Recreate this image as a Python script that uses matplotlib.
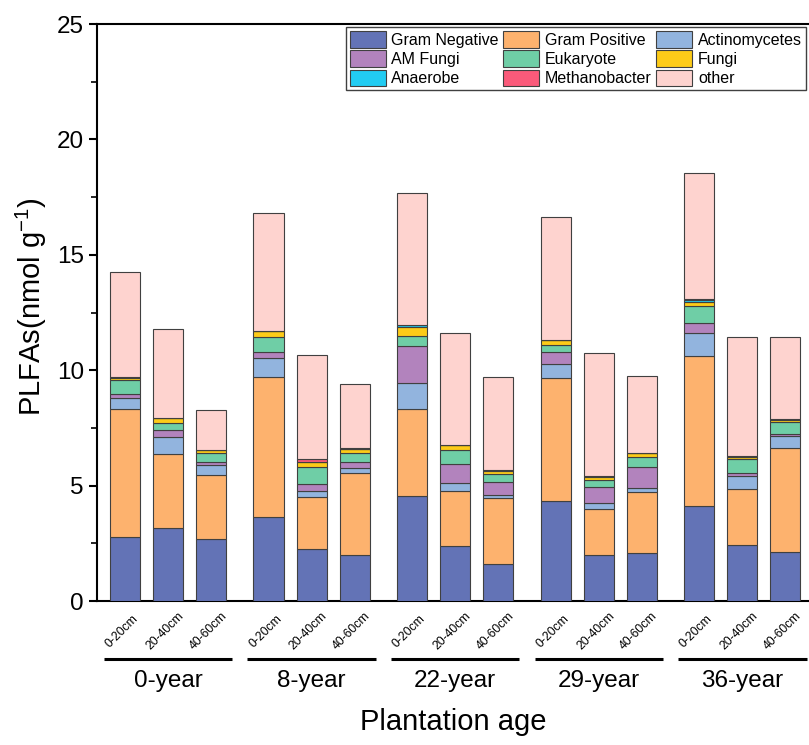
import numpy as np
import matplotlib
matplotlib.use("Agg")
import matplotlib.pyplot as plt
from matplotlib.patches import Patch

plt.rcParams['font.family'] = ['Liberation Sans', 'DejaVu Sans']
plt.rcParams['mathtext.default'] = 'regular'

ages = ['0-year', '8-year', '22-year', '29-year', '36-year']
depths = ['0-20cm', '20-40cm', '40-60cm']

# one value per bar: ages x depths, flattened
gram_neg = [2.76, 3.16, 2.70, 3.65, 2.25, 1.99, 4.56, 2.37, 1.60, 4.33, 1.98, 2.07, 4.12, 2.41, 2.11]
gram_pos = [5.57, 3.19, 2.76, 6.07, 2.27, 3.54, 3.74, 2.38, 2.85, 5.33, 1.99, 2.64, 6.51, 2.43, 4.53]
actino = [0.47, 0.77, 0.42, 0.79, 0.23, 0.22, 1.13, 0.38, 0.14, 0.59, 0.26, 0.17, 0.97, 0.56, 0.49]
am_fungi = [0.17, 0.29, 0.13, 0.27, 0.32, 0.26, 1.60, 0.82, 0.57, 0.53, 0.71, 0.94, 0.43, 0.15, 0.09]
eukaryote = [0.61, 0.32, 0.40, 0.65, 0.74, 0.39, 0.47, 0.58, 0.34, 0.30, 0.29, 0.41, 0.75, 0.59, 0.52]
fungi = [0.10, 0.20, 0.12, 0.27, 0.20, 0.19, 0.39, 0.23, 0.15, 0.23, 0.16, 0.17, 0.19, 0.11, 0.12]
anaerobe = [0.02, 0.01, 0.01, 0.01, 0.02, 0.01, 0.08, 0.01, 0.01, 0.01, 0.01, 0.01, 0.09, 0.01, 0.01]
methano = [0.01, 0.01, 0.01, 0.01, 0.14, 0.01, 0.01, 0.01, 0.01, 0.01, 0.01, 0.01, 0.01, 0.01, 0.01]
other = [4.56, 3.85, 1.74, 5.10, 4.50, 2.78, 5.68, 4.85, 4.04, 5.29, 5.34, 3.32, 5.46, 5.18, 3.55]

names = ['Gram Negative', 'Gram Positive', 'Actinomycetes', 'AM Fungi', 'Eukaryote',
         'Fungi', 'Anaerobe', 'Methanobacter', 'other']
series = [gram_neg, gram_pos, actino, am_fungi, eukaryote, fungi, anaerobe, methano, other]
colors = ['#6373B6', '#FDB26E', '#92B4DE', '#B283BD', '#6FCEA6',
          '#FDCB18', '#22CCF2', '#FA5A7A', '#FED3CF']

gstep = 3.333
xpos = np.array([g * gstep + d for g in range(len(ages)) for d in range(len(depths))])

fig = plt.figure(figsize=(8.09, 7.45), dpi=100)
ax = fig.add_axes([97 / 809, 1 - 601 / 745, 1 - 97 / 809, (601 - 24) / 745])

bottom = np.zeros(len(xpos))
for vals, c in zip(series, colors):
    vals = np.array(vals)
    ax.bar(xpos, vals, width=0.7, bottom=bottom, color=c,
           edgecolor='#404040', linewidth=0.8, zorder=3)
    bottom += vals

ax.set_xlim(-0.65, 15.88)
ax.set_ylim(0, 25)
ax.set_yticks([0, 5, 10, 15, 20, 25])
ax.set_yticks([2.5, 7.5, 12.5, 17.5, 22.5], minor=True)
ax.tick_params(axis='y', which='major', length=6, width=1.5, labelsize=17.5, direction='out')
ax.tick_params(axis='y', which='minor', length=4, width=1.2, direction='out')
ax.set_xticks([])
for s in ['left', 'bottom', 'top']:
    ax.spines[s].set_linewidth(1.5)
ax.spines['right'].set_visible(False)

# depth labels, brackets and age labels under the axis
for i, x in enumerate(xpos):
    ax.text(x - 0.07, -1.32, depths[i % 3], rotation=45, ha='center', va='center',
            fontsize=8.8, clip_on=False)
for g, age in enumerate(ages):
    x0 = g * gstep
    ax.plot([x0 - 0.49, x0 + 2.49], [-2.51, -2.51], color='black', lw=2.2,
            clip_on=False, solid_capstyle='butt')
    ax.text(x0 + 1, -3.45, age, ha='center', va='center', fontsize=17.5, clip_on=False)

fig.text(453 / 809, 1 - 722 / 745, 'Plantation age', ha='center', va='center', fontsize=21)
fig.text(31 / 809, 1 - 307 / 745, 'PLFAs(nmol g$^{-1}$)', rotation=90, ha='center',
         va='center', fontsize=21)

# legend filled row by row
order = [0, 3, 6, 1, 4, 7, 2, 5, 8]
handles = [Patch(facecolor=colors[k], edgecolor='#404040', linewidth=0.8) for k in order]
labels = [names[k] for k in order]
leg = ax.legend(handles, labels, ncol=3, loc='upper right',
                bbox_to_anchor=(806 / 809, 1 - 27 / 745), bbox_transform=fig.transFigure,
                fontsize=11.5, frameon=True, fancybox=False, framealpha=1,
                edgecolor='#404040', handlelength=2.25, handleheight=1.25,
                handletextpad=0.35, labelspacing=0.15, columnspacing=0.3,
                borderpad=0.25, borderaxespad=0)
leg.get_frame().set_linewidth(1.0)

fig.savefig('out.png', dpi=100)
